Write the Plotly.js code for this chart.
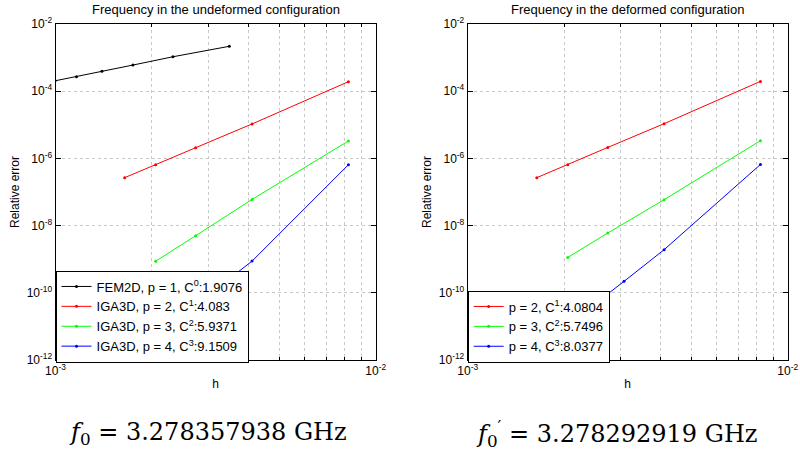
<!DOCTYPE html>
<html>
<head>
<meta charset="utf-8">
<script src="https://cdn.plot.ly/plotly-3.0.1.min.js"></script>
<style>html,body{margin:0;padding:0;background:#fff;}#chart{width:800px;height:452px;}</style>
</head>
<body>
<div id="chart"></div>
<script>
// ---- data ----
const hFem = [3.49e-3, 2.327e-3, 1.745e-3, 1.396e-3, 1.163e-3, 0.997e-3];
const errFem = [2.17e-3, 1.06e-3, 6.0e-4, 3.9e-4, 2.69e-4, 2.04e-4];

const hP2 = [8.22e-3, 4.11e-3, 2.74e-3, 2.055e-3, 1.644e-3];
const hP3 = [8.22e-3, 4.11e-3, 2.74e-3, 2.055e-3];
const hP4 = [8.22e-3, 4.11e-3, 3.08e-3, 2.47e-3];

const errP2Undef = [1.92e-4, 1.06e-5, 2.08e-6, 6.5e-7, 2.67e-7];
const errP3Undef = [3.3e-6, 6.0e-8, 5.0e-9, 8.7e-10];
const errP4Undef = [6.5e-7, 8.8e-10, 1.03e-10, 2.0e-11];

const errP2Def = [1.96e-4, 1.08e-5, 2.12e-6, 6.5e-7, 2.67e-7];
const errP3Def = [3.37e-6, 5.9e-8, 6.0e-9, 1.13e-9];
const errP4Def = [6.6e-7, 1.92e-9, 2.19e-10, 4.3e-11];

const namesUndef = ["FEM2D, p = 1, C<sup>0</sup>:1.9076", "IGA3D, p = 2, C<sup>1</sup>:4.083",
                    "IGA3D, p = 3, C<sup>2</sup>:5.9371", "IGA3D, p = 4, C<sup>3</sup>:9.1509"];
const namesDef = ["p = 2, C<sup>1</sup>:4.0804", "p = 3, C<sup>2</sup>:5.7496", "p = 4, C<sup>3</sup>:8.0377"];

const titles = ["Frequency in the undeformed configuration", "Frequency in the deformed configuration"];
const yTickVals = [1e-12, 1e-10, 1e-8, 1e-6, 1e-4, 1e-2];
const yTickText = ["10<sup>-12</sup>", "10<sup>-10</sup>", "10<sup>-8</sup>", "10<sup>-6</sup>", "10<sup>-4</sup>", "10<sup>-2</sup>"];
const xTickVals = [1e-3, 1e-2];
const xTickText = ["10<sup>-3</sup>", "10<sup>-2</sup>"];
const xMinorVals = [2e-3, 3e-3, 4e-3, 5e-3, 6e-3, 7e-3, 8e-3, 9e-3];
const freqTexts = ["<i>f</i><sub>0</sub> = 3.278357938 GHz", "<i>f</i><sub>0</sub><sup>′</sup> = 3.278292919 GHz"];

// ---- traces ----
function tr(x, y, name, color, xa, ya, leg) {
  return {x: x, y: y, name: name, type: 'scatter', mode: 'lines+markers',
    line: {color: color, width: 1}, marker: {color: color, size: 3},
    xaxis: xa, yaxis: ya, legend: leg, cliponaxis: true};
}
const data = [
  tr(hFem, errFem, namesUndef[0], '#000000', 'x', 'y', 'legend'),
  tr(hP2, errP2Undef, namesUndef[1], '#ff0000', 'x', 'y', 'legend'),
  tr(hP3, errP3Undef, namesUndef[2], '#00ff00', 'x', 'y', 'legend'),
  tr(hP4, errP4Undef, namesUndef[3], '#0000ff', 'x', 'y', 'legend'),
  tr(hP2, errP2Def, namesDef[0], '#ff0000', 'x2', 'y2', 'legend2'),
  tr(hP3, errP3Def, namesDef[1], '#00ff00', 'x2', 'y2', 'legend2'),
  tr(hP4, errP4Def, namesDef[2], '#0000ff', 'x2', 'y2', 'legend2')
];

const font = 'Arial';
function xax(dom, anchor) {
  return {domain: dom, anchor: anchor, type: 'log', range: [-3, -2], autorange: false,
    tickvals: xTickVals, ticktext: xTickText, ticks: 'inside', ticklen: 5, tickcolor: '#000',
    showline: true, linecolor: '#000', linewidth: 1, mirror: 'ticks',
    showgrid: false, zeroline: false, automargin: false,
    tickfont: {family: font, size: 12, color: '#000'},
    minor: {tickvals: xMinorVals, ticks: 'inside', ticklen: 3, tickcolor: '#000',
            showgrid: true, gridcolor: '#c8c8c8', griddash: 'dot', gridwidth: 1},
    title: {text: 'h', font: {family: font, size: 12, color: '#000'}, standoff: 2}};
}
function yax(dom, anchor) {
  return {domain: dom, anchor: anchor, type: 'log', range: [-12, -2], autorange: false,
    tickvals: yTickVals, ticktext: yTickText, ticks: 'inside', ticklen: 5, tickcolor: '#000',
    showline: true, linecolor: '#000', linewidth: 1, mirror: 'ticks',
    showgrid: true, gridcolor: '#c8c8c8', griddash: 'dot', gridwidth: 1,
    zeroline: false, automargin: false,
    tickfont: {family: font, size: 12, color: '#000'},
    title: {text: 'Relative error', font: {family: font, size: 12, color: '#000'}, standoff: 4}};
}
const yDom = [0.2035, 0.9469];
const legendBase = {bgcolor: '#ffffff', bordercolor: '#000000', borderwidth: 1,
  font: {family: font, size: 13, color: '#000'}, xanchor: 'left', yanchor: 'bottom',
  itemwidth: 30, tracegroupgap: 0, traceorder: 'normal'};

const layout = {
  width: 800, height: 452, margin: {l: 0, r: 0, t: 0, b: 0},
  paper_bgcolor: '#fff', plot_bgcolor: '#fff', showlegend: true,
  xaxis: xax([0.0694, 0.4696], 'y'),
  yaxis: yax(yDom, 'x'),
  xaxis2: xax([0.5846, 0.9846], 'y2'),
  yaxis2: yax(yDom, 'x2'),
  legend: Object.assign({}, legendBase, {x: 0.0694, y: 0.198}),
  legend2: Object.assign({}, legendBase, {x: 0.5846, y: 0.198}),
  annotations: [
    {text: titles[0], xref: 'paper', yref: 'paper', x: 0.2695, y: 0.978, xanchor: 'center', yanchor: 'middle',
     showarrow: false, font: {family: font, size: 13, color: '#000'}},
    {text: titles[1], xref: 'paper', yref: 'paper', x: 0.7846, y: 0.978, xanchor: 'center', yanchor: 'middle',
     showarrow: false, font: {family: font, size: 13, color: '#000'}},
    {text: freqTexts[0], xref: 'paper', yref: 'paper', x: 0.2594, y: 0.04, xanchor: 'center', yanchor: 'middle',
     showarrow: false, font: {family: 'DejaVu Serif', size: 24, color: '#000'}},
    {text: freqTexts[1], xref: 'paper', yref: 'paper', x: 0.771, y: 0.04, xanchor: 'center', yanchor: 'middle',
     showarrow: false, font: {family: 'DejaVu Serif', size: 24, color: '#000'}}
  ]
};

Plotly.newPlot('chart', data, layout, {displayModeBar: false, staticPlot: true});
</script>
</body>
</html>
